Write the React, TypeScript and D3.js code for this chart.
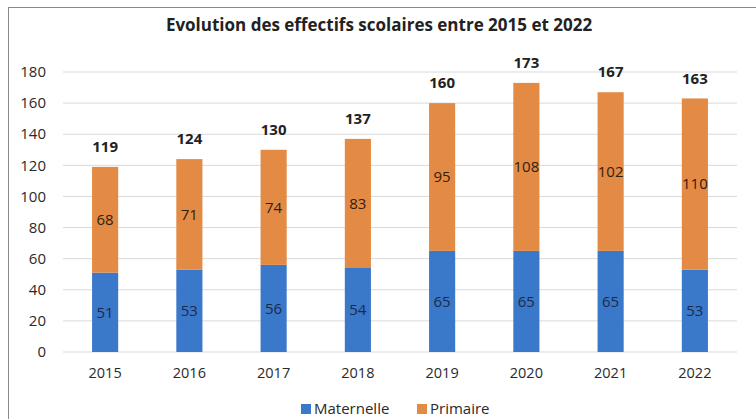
import React from "react";
import * as d3 from "d3";

const years = ["2015", "2016", "2017", "2018", "2019", "2020", "2021", "2022"];
const maternelle = [51, 53, 56, 54, 65, 65, 65, 53];
const primaire = [68, 71, 74, 83, 95, 108, 102, 110];
const totals = [119, 124, 130, 137, 160, 173, 167, 163];
const yTicks = [0, 20, 40, 60, 80, 100, 120, 140, 160, 180];
const seriesNames = ["Maternelle", "Primaire"];
const title = "Evolution des effectifs scolaires entre 2015 et 2022";

const W = 756;
const H = 419;
const BLUE = "#3a78c9";
const ORANGE = "#e38a45";
const FONT = "'Open Sans', 'Noto Sans', sans-serif";

export default function App() {
  const x = d3.scaleBand().domain(years).range([63, 737]).paddingInner(0.69).paddingOuter(0.345);
  const y = d3.scaleLinear().domain([0, 180]).range([352, 72]);
  const bw = x.bandwidth();

  return (
    <svg width={W} height={H} style={{ position: "absolute", left: 0, top: 0, background: "#fff" }} fontFamily={FONT}>
      <rect x={0} y={0} width={W} height={H} fill="#fff" />
      <rect x={8.5} y={7.5} width={W + 10} height={H + 10} fill="none" stroke="#8a8a8a" strokeWidth={1} />
      <text x={379} y={31} textAnchor="middle" fontSize={17} fontWeight="bold" fill="#222">{title}</text>
      {yTicks.map((t) => (
        <g key={t}>
          <line x1={63} x2={737} y1={y(t)} y2={y(t)} stroke="#d9d9d9" strokeWidth={1} />
          <text x={46} y={y(t)} dy="0.35em" textAnchor="end" fontSize={15} fill="#2a2a2a">{t}</text>
        </g>
      ))}
      {years.map((yr, i) => {
        const x0 = x(yr)!;
        const cx = x0 + bw / 2;
        const m = maternelle[i];
        const p = primaire[i];
        return (
          <g key={yr}>
            <rect x={x0} y={y(m)} width={bw} height={y(0) - y(m)} fill={BLUE} />
            <rect x={x0} y={y(m + p)} width={bw} height={y(m) - y(m + p)} fill={ORANGE} />
            <text x={cx} y={y(m / 2)} dy="0.35em" textAnchor="middle" fontSize={15} fill="#1a2b4a">{m}</text>
            <text x={cx} y={y(m + p / 2)} dy="0.35em" textAnchor="middle" fontSize={15} fill="#33200f">{p}</text>
            <text x={cx} y={y(totals[i]) - 20} dy="0.35em" textAnchor="middle" fontSize={15} fontWeight="bold" fill="#222">{totals[i]}</text>
            <text x={cx} y={373} dy="0.35em" textAnchor="middle" fontSize={14.5} fill="#2a2a2a">{yr}</text>
          </g>
        );
      })}
      <g>
        <rect x={301} y={404} width={10} height={10} fill={BLUE} />
        <text x={314} y={409} dy="0.35em" fontSize={15} fill="#2a2a2a">{seriesNames[0]}</text>
        <rect x={417} y={404} width={10} height={10} fill={ORANGE} />
        <text x={430} y={409} dy="0.35em" fontSize={15} fill="#2a2a2a">{seriesNames[1]}</text>
      </g>
    </svg>
  );
}
